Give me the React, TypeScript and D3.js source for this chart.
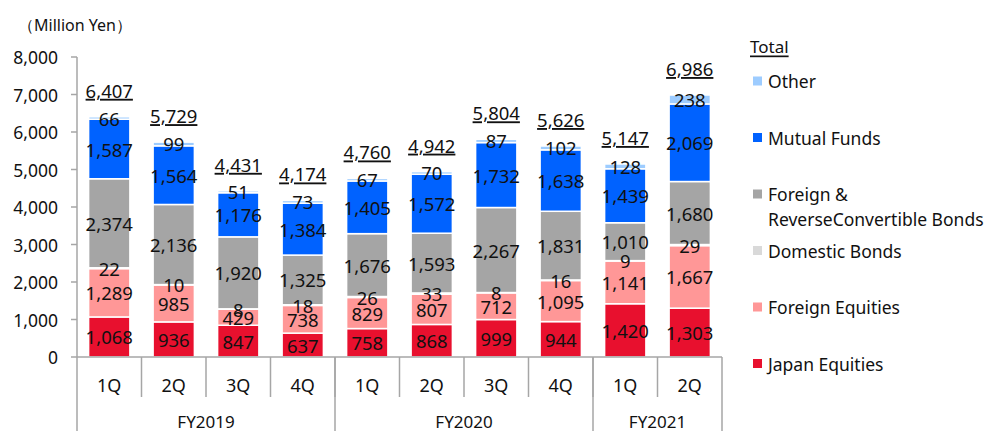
import React from "react";
import * as d3 from "d3";

// Quarterly balance of customer assets by product (Million Yen)
const quarters = ["1Q", "2Q", "3Q", "4Q", "1Q", "2Q", "3Q", "4Q", "1Q", "2Q"];
const fiscalYears = [
  { label: "FY2019", start: 0, end: 4 },
  { label: "FY2020", start: 4, end: 8 },
  { label: "FY2021", start: 8, end: 10 },
];

const japanEquities = [1068, 936, 847, 637, 758, 868, 999, 944, 1420, 1303];
const foreignEquities = [1289, 985, 429, 738, 829, 807, 712, 1095, 1141, 1667];
const domesticBonds = [22, 10, 8, 18, 26, 33, 8, 16, 9, 29];
const foreignBonds = [2374, 2136, 1920, 1325, 1676, 1593, 2267, 1831, 1010, 1680];
const mutualFunds = [1587, 1564, 1176, 1384, 1405, 1572, 1732, 1638, 1439, 2069];
const other = [66, 99, 51, 73, 67, 70, 87, 102, 128, 238];
const totals = [6407, 5729, 4431, 4174, 4760, 4942, 5804, 5626, 5147, 6986];

const yTicks = [0, 1000, 2000, 3000, 4000, 5000, 6000, 7000, 8000];

const series = [
  { name: "Japan Equities", values: japanEquities, color: "#E8102E" },
  { name: "Foreign Equities", values: foreignEquities, color: "#FF9797" },
  { name: "Domestic Bonds", values: domesticBonds, color: "#D9D9D9" },
  { name: "Foreign & ReverseConvertible Bonds", values: foreignBonds, color: "#A5A5A5" },
  { name: "Mutual Funds", values: mutualFunds, color: "#0062FF" },
  { name: "Other", values: other, color: "#9DCCFF" },
];

const legendItems = [
  { lines: ["Other"], color: "#9DCCFF" },
  { lines: ["Mutual Funds"], color: "#0062FF" },
  { lines: ["Foreign &", "ReverseConvertible Bonds"], color: "#A5A5A5" },
  { lines: ["Domestic Bonds"], color: "#D9D9D9" },
  { lines: ["Foreign Equities"], color: "#FF9797" },
  { lines: ["Japan Equities"], color: "#E8102E" },
];

const W = 987;
const H = 431;
const FONT = "'Noto Sans', 'DejaVu Sans', sans-serif";
const AXIS = "#A6A6A6";

export default function App() {
  const idx = quarters.map((_, i) => String(i));
  const x = d3.scaleBand<string>().domain(idx).range([77, 722]).padding(0);
  const y = d3.scaleLinear().domain([0, 8000]).range([357, 57]);
  const step = x.bandwidth();
  const barW = step * 0.64;

  const keys = series.map((s) => s.name);
  const rows = quarters.map((_, i) => {
    const r: Record<string, number> = {};
    series.forEach((s) => (r[s.name] = s.values[i]));
    return r;
  });
  const stacked = d3.stack<Record<string, number>>().keys(keys)(rows);

  return (
    <svg width={W} height={H} style={{ display: "block", position: "absolute", left: 0, top: 0 }} fontFamily={FONT}>
      <rect width={W} height={H} fill="#fff" />
      <text x={18} y={25} fontSize={16} dominantBaseline="central" fill="#111">
        （Million Yen）
      </text>

      {/* y axis */}
      <line x1={77} x2={77} y1={y(8000)} y2={H} stroke={AXIS} strokeWidth={1.5} />
      {yTicks.map((t) => (
        <g key={t}>
          <line x1={71} x2={77} y1={y(t)} y2={y(t)} stroke={AXIS} strokeWidth={1.5} />
          <text x={58} y={y(t)} fontSize={17.5} textAnchor="end" dominantBaseline="central" fill="#111">
            {d3.format(",")(t)}
          </text>
        </g>
      ))}

      {/* stacked bars */}
      {stacked.map((layer, li) => (
        <g key={layer.key}>
          {layer.map((d, i) => (
            <rect
              key={i}
              x={(x(String(i)) as number) + (step - barW) / 2}
              y={y(d[1])}
              width={barW}
              height={Math.max(0, y(d[0]) - y(d[1]))}
              fill={series[li].color}
              stroke="#fff"
              strokeWidth={1.5}
            />
          ))}
        </g>
      ))}

      {/* segment values */}
      {stacked.map((layer, li) => (
        <g key={"l" + layer.key}>
          {layer.map((d, i) => (
            <text
              key={i}
              x={(x(String(i)) as number) + step / 2}
              y={(y(d[0]) + y(d[1])) / 2}
              fontSize={18.5}
              textAnchor="middle"
              dominantBaseline="central"
              fill="#111"
            >
              {d3.format(",")(series[li].values[i])}
            </text>
          ))}
        </g>
      ))}

      {/* totals */}
      {totals.map((t, i) => (
        <text
          key={"t" + i}
          x={(x(String(i)) as number) + step / 2}
          y={y(d3.sum(series, (s) => s.values[i])) - 19}
          fontSize={18.5}
          textAnchor="middle"
          textDecoration="underline"
          fill="#111"
        >
          {d3.format(",")(t)}
        </text>
      ))}

      {/* category axis */}
      <line x1={77} x2={722} y1={y(0)} y2={y(0)} stroke={AXIS} strokeWidth={1.5} />
      {quarters.map((q, i) => {
        const x0 = x(String(i)) as number;
        return (
          <g key={"q" + i}>
            {i > 0 && (
              <line x1={x0} x2={x0} y1={y(0)} y2={397} stroke={AXIS} strokeWidth={1.5} />
            )}
            <text x={x0 + step / 2} y={385} fontSize={18} textAnchor="middle" dominantBaseline="central" fill="#111">
              {q}
            </text>
          </g>
        );
      })}
      {fiscalYears.map((fy) => {
        const x0 = x(String(fy.start)) as number;
        const x1 = fy.end < quarters.length ? (x(String(fy.end)) as number) : 722;
        return (
          <g key={fy.label}>
            <line x1={x1} x2={x1} y1={y(0)} y2={H} stroke={AXIS} strokeWidth={1.5} />
            <text x={(x0 + x1) / 2} y={421} fontSize={17} textAnchor="middle" dominantBaseline="central" fill="#111">
              {fy.label}
            </text>
          </g>
        );
      })}

      {/* legend */}
      <text x={750} y={46} fontSize={17} dominantBaseline="central" textDecoration="underline" fill="#111">
        Total
      </text>
      {legendItems.map((it, k) => {
        const cy = 81 + k * 56.5;
        return (
          <g key={"lg" + k}>
            <rect x={753} y={cy - 4.5} width={9} height={9} fill={it.color} />
            {it.lines.map((ln, j) => (
              <text key={j} x={768} y={cy + j * 25} fontSize={17.5} dominantBaseline="central" fill="#111">
                {ln}
              </text>
            ))}
          </g>
        );
      })}
    </svg>
  );
}
